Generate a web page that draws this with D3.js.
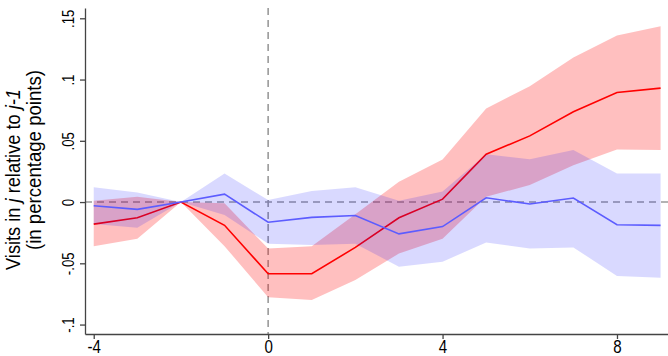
<!DOCTYPE html>
<html>
<head>
<meta charset="utf-8">
<script src="https://cdn.jsdelivr.net/npm/d3@7"></script>
<style>
  html, body { margin: 0; padding: 0; background: #fff; }
  svg { display: block; font-family: "Liberation Sans", Arial, sans-serif; }
</style>
</head>
<body>
<svg id="chart" width="668" height="356"></svg>
<script>
// Event time (periods relative to the event)
const periods = [-4, -3, -2, -1, 0, 1, 2, 3, 4, 5, 6, 7, 8, 9];

// Red series: point estimate and 95% band
const redEst   = [-0.018, -0.0128, 0, -0.019, -0.0585, -0.0585, -0.037, -0.0128, 0.0024, 0.039, 0.054, 0.0737, 0.0894, 0.093];
const redLow   = [-0.036, -0.030, 0, -0.036, -0.0778, -0.080, -0.0636, -0.042, -0.030, 0.0043, 0.0139, 0.030, 0.043, 0.0424];
const redHigh  = [0.001, 0.0043, 0, -0.001, -0.038, -0.036, -0.010, 0.0166, 0.0348, 0.0764, 0.0946, 0.118, 0.136, 0.1435];

// Blue series: point estimate and 95% band
const blueEst  = [-0.003, -0.006, 0, 0.0065, -0.0165, -0.0125, -0.011, -0.026, -0.020, 0.0035, -0.0016, 0.0033, -0.0185, -0.019];
const blueLow  = [-0.018, -0.021, 0, -0.0105, -0.034, -0.035, -0.034, -0.0528, -0.0487, -0.033, -0.038, -0.037, -0.0604, -0.0617];
const blueHigh = [0.012, 0.0079, 0, 0.0234, 0.0016, 0.009, 0.012, 0.001, 0.0087, 0.039, 0.035, 0.0424, 0.0234, 0.0234];

// Axis ticks
const xTicks = [-4, 0, 4, 8];
const xTickLabels = ["-4", "0", "4", "8"];
const yTicks = [-0.1, -0.05, 0, 0.05, 0.1, 0.15];
const yTickLabels = ["-.1", "-.05", "0", ".05", ".1", ".15"];

const svg = d3.select("#chart");
const x = d3.scaleLinear().domain([-4.2, 9.17]).range([85, 668]);
const y = d3.scaleLinear().domain([-0.1077, 0.1584]).range([334, 8]);

const redRows = periods.map((p, i) => ({ p, est: redEst[i], lo: redLow[i], hi: redHigh[i] }));
const blueRows = periods.map((p, i) => ({ p, est: blueEst[i], lo: blueLow[i], hi: blueHigh[i] }));

// Reference lines at zero
svg.append("line")
  .attr("x1", x.range()[0]).attr("x2", x.range()[1])
  .attr("y1", y(0)).attr("y2", y(0))
  .attr("stroke", "#9a9a9a").attr("stroke-width", 1.6)
  .attr("stroke-dasharray", "7,5");
svg.append("line")
  .attr("x1", x(0)).attr("x2", x(0))
  .attr("y1", y.range()[1]).attr("y2", y.range()[0])
  .attr("stroke", "#9a9a9a").attr("stroke-width", 1.6)
  .attr("stroke-dasharray", "7,5");

const area = d3.area().x(d => x(d.p)).y0(d => y(d.lo)).y1(d => y(d.hi));
const line = d3.line().x(d => x(d.p)).y(d => y(d.est));

// Red band and estimate
svg.append("path").datum(redRows).attr("d", area)
  .attr("fill", "rgba(255,0,0,0.25)");
svg.append("path").datum(redRows).attr("d", line)
  .attr("fill", "none").attr("stroke", "#ff0000").attr("stroke-width", 1.6);

// Blue band and estimate
svg.append("path").datum(blueRows).attr("d", area)
  .attr("fill", "rgba(0,0,255,0.15)");
svg.append("path").datum(blueRows).attr("d", line)
  .attr("fill", "none").attr("stroke", "#5c5cff").attr("stroke-width", 1.6);

// Axes
const yAxis = d3.axisLeft(y).tickValues(yTicks)
  .tickFormat((d, i) => yTickLabels[i]).tickSize(5).tickSizeOuter(0);
const gy = svg.append("g").attr("transform", `translate(${x.range()[0]},0)`).call(yAxis);
gy.select(".domain").attr("stroke", "#444").attr("stroke-width", 1.3);
gy.selectAll(".tick line").attr("stroke", "#444").attr("stroke-width", 1.3);
gy.selectAll(".tick text")
  .attr("font-size", 16.5).attr("fill", "#000")
  .attr("text-anchor", "middle")
  .attr("transform", "rotate(-90) scale(0.8,1)")
  .attr("x", 0).attr("y", -11.5).attr("dy", 0);

const xAxis = d3.axisBottom(x).tickValues(xTicks)
  .tickFormat((d, i) => xTickLabels[i]).tickSize(5).tickSizeOuter(0);
const gx = svg.append("g").attr("transform", `translate(0,${y.range()[0]})`).call(xAxis);
gx.select(".domain").attr("stroke", "#444").attr("stroke-width", 1.3);
gx.selectAll(".tick line").attr("stroke", "#444").attr("stroke-width", 1.3);
gx.selectAll(".tick text")
  .attr("font-size", 18).attr("fill", "#000")
  .attr("transform", "scale(0.84,1)")
  .attr("y", 19).attr("dy", 0);

// Y-axis title, two lines
const title = svg.append("text")
  .attr("transform", "translate(19.5,179.5) rotate(-90)")
  .attr("text-anchor", "middle")
  .attr("font-size", 20).attr("fill", "#000")
  .attr("textLength", 181).attr("lengthAdjust", "spacingAndGlyphs");
title.append("tspan").text("Visits in ");
title.append("tspan").attr("font-style", "italic").text("j");
title.append("tspan").text(" relative to ");
title.append("tspan").attr("font-style", "italic").text("j-1");
svg.append("text")
  .attr("transform", "translate(40.7,160) rotate(-90)")
  .attr("text-anchor", "middle")
  .attr("font-size", 20).attr("fill", "#000")
  .attr("textLength", 180).attr("lengthAdjust", "spacingAndGlyphs")
  .text("(in percentage points)");
</script>
</body>
</html>
